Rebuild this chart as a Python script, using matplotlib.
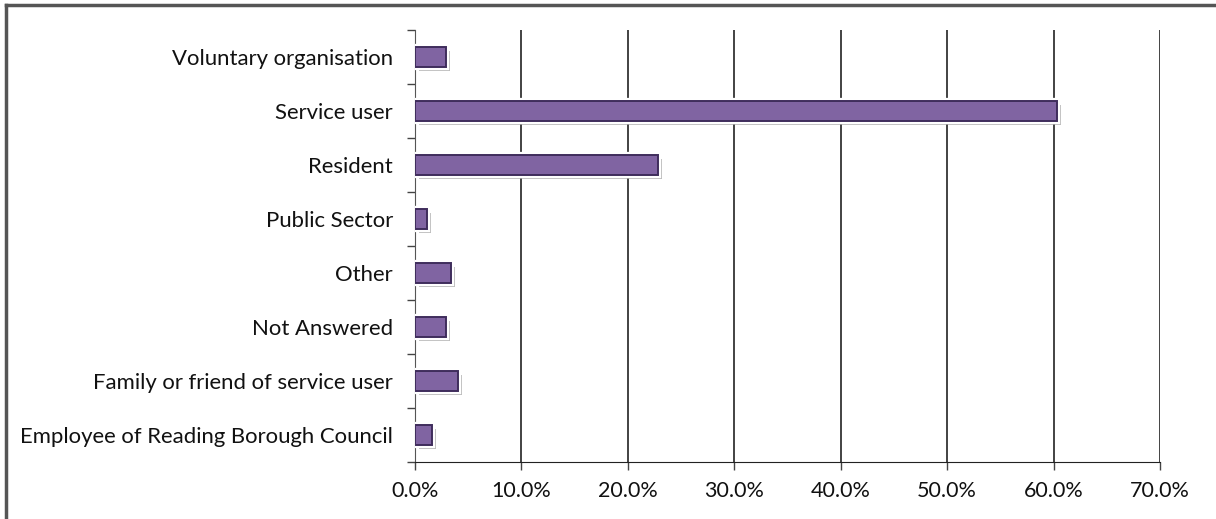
import matplotlib
matplotlib.use('Agg')
import matplotlib.pyplot as plt
import matplotlib.patheffects as pe
from matplotlib.lines import Line2D
from matplotlib.ticker import FuncFormatter, FixedLocator

plt.rcParams['font.family'] = ['Lato', 'DejaVu Sans']

# top to bottom as drawn
categories = ['Voluntary organisation', 'Service user', 'Resident', 'Public Sector',
              'Other', 'Not Answered', 'Family or friend of service user',
              'Employee of Reading Borough Council']
values = [2.9, 60.3, 22.8, 1.1, 3.4, 2.9, 4.0, 1.6]
x_ticks = [0, 10, 20, 30, 40, 50, 60, 70]

fig = plt.figure(figsize=(12.16, 5.19), dpi=100)
ax = fig.add_axes([415 / 1216, 1 - 462 / 519, 745 / 1216, 432 / 519])

ypos = list(range(len(categories)))
bars = ax.barh(ypos, values, height=0.36, color='#8064a2', edgecolor='#3f2d5c',
               linewidth=1.4, zorder=3)
for b in bars:
    b.set_path_effects([pe.SimplePatchShadow(offset=(3, -3), shadow_rgbFace='#a0a0a0', alpha=0.7),
                        pe.Stroke(linewidth=4.5, foreground='white'),
                        pe.Normal()])

ax.set_ylim(len(categories) - 0.5, -0.5)
ax.set_xlim(0, 70)
ax.set_xticks(x_ticks)
ax.xaxis.set_major_formatter(FuncFormatter(lambda v, p: f'{v:.1f}%'))
ax.set_yticks(ypos)
ax.set_yticklabels(categories)
ax.yaxis.set_minor_locator(FixedLocator([i - 0.5 for i in range(len(categories) + 1)]))
ax.tick_params(axis='y', which='major', length=0, pad=16, labelsize=15.9, labelcolor='#111111')
ax.tick_params(axis='y', which='minor', length=6, width=1, color='#444444')
ax.tick_params(axis='x', length=6, width=1, color='#444444', labelsize=15.5,
               labelcolor='#111111', pad=8)

ax.grid(axis='x', color='#222222', linewidth=1.2, zorder=0)
ax.set_axisbelow(True)
for s in ['top', 'right']:
    ax.spines[s].set_visible(False)
ax.spines['left'].set_color('#555555')
ax.spines['bottom'].set_color('#222222')

# outer frame (left and top only visible)
fig.add_artist(Line2D([6 / 1216, 6 / 1216], [0, 1 - 5 / 519], transform=fig.transFigure,
                      color='#555555', linewidth=2.5))
fig.add_artist(Line2D([6 / 1216, 1], [1 - 5 / 519, 1 - 5 / 519], transform=fig.transFigure,
                      color='#555555', linewidth=2.5))

fig.savefig('out.png', dpi=100)
